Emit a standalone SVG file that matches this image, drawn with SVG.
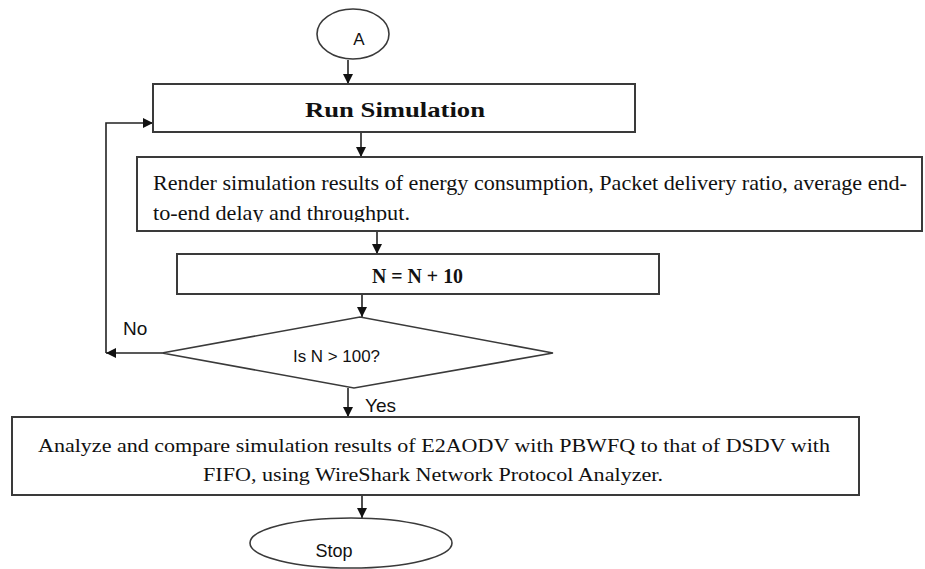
<svg xmlns="http://www.w3.org/2000/svg" width="925" height="569" viewBox="0 0 925 569">
<style>
.box{fill:#fff;stroke:#3a3a3a;stroke-width:2}
.term{fill:#fff;stroke:#3a3a3a;stroke-width:1.6}
.con{fill:none;stroke:#222;stroke-width:1.6}
.serif{font-family:"Liberation Serif","Times New Roman",serif;fill:#111}
.bold{font-weight:bold}
.sans{font-family:"Liberation Sans",Arial,sans-serif;fill:#111}
</style>
<defs>
<marker id="arr" markerUnits="userSpaceOnUse" markerWidth="12" markerHeight="10" refX="10" refY="5" orient="auto">
<path d="M0,0 L10,5 L0,10 z" fill="#111"/>
</marker>
<clipPath id="clipRender"><rect x="137" y="157" width="786" height="65"/></clipPath>
</defs>
<g id="connectors">
<path class="con" d="M348,60 V84" marker-end="url(#arr)"/>
<path class="con" d="M361,132 V157" marker-end="url(#arr)"/>
<path class="con" d="M377,231 V254" marker-end="url(#arr)"/>
<path class="con" d="M362,294 V317" marker-end="url(#arr)"/>
<path class="con" d="M348,388 V417" marker-end="url(#arr)"/>
<path class="con" d="M362,495 V518" marker-end="url(#arr)"/>
<path class="con" d="M162,353 H106" marker-end="url(#arr)"/>
<path class="con" d="M106,353 V123 H153" marker-end="url(#arr)"/>
<text class="sans" x="123" y="335" font-size="19">No</text>
<text class="sans" x="365" y="412" font-size="19">Yes</text>
</g>
<g id="start">
<ellipse class="term" cx="353" cy="34" rx="36" ry="25"/>
<text class="sans" x="359" y="45" font-size="17" text-anchor="middle">A</text>
</g>
<g id="run">
<rect class="box" x="153" y="84" width="482" height="48"/>
<text class="serif bold" x="305" y="117" font-size="22" textLength="180" lengthAdjust="spacingAndGlyphs">Run Simulation</text>
</g>
<g id="render">
<rect class="box" x="137" y="157" width="785" height="74"/>
<text class="serif" x="153" y="190" font-size="22" textLength="754" lengthAdjust="spacingAndGlyphs">Render simulation results of energy consumption, Packet delivery ratio, average end-</text>
<text class="serif" x="153" y="220" font-size="22" textLength="257" lengthAdjust="spacingAndGlyphs" clip-path="url(#clipRender)">to-end delay and throughput.</text>
</g>
<g id="increment">
<rect class="box" x="177" y="254" width="482" height="40"/>
<text class="serif bold" x="372" y="283" font-size="20" textLength="91" lengthAdjust="spacingAndGlyphs">N = N + 10</text>
</g>
<g id="decision">
<polygon class="term" points="162,353 360,317 553,353 354,388"/>
<text class="sans" x="293" y="362" font-size="16" textLength="87" lengthAdjust="spacingAndGlyphs">Is N &gt; 100?</text>
</g>
<g id="analyze">
<rect class="box" x="12" y="417" width="847" height="78"/>
<text class="serif" x="38" y="452" font-size="19" textLength="792" lengthAdjust="spacingAndGlyphs">Analyze and compare simulation results of E2AODV with PBWFQ to that of DSDV with</text>
<text class="serif" x="203" y="481" font-size="19" textLength="460" lengthAdjust="spacingAndGlyphs">FIFO, using WireShark Network Protocol Analyzer.</text>
</g>
<g id="stop">
<ellipse class="term" cx="351" cy="543" rx="101" ry="25"/>
<text class="sans" x="334" y="557" font-size="18" text-anchor="middle">Stop</text>
</g>
</svg>
